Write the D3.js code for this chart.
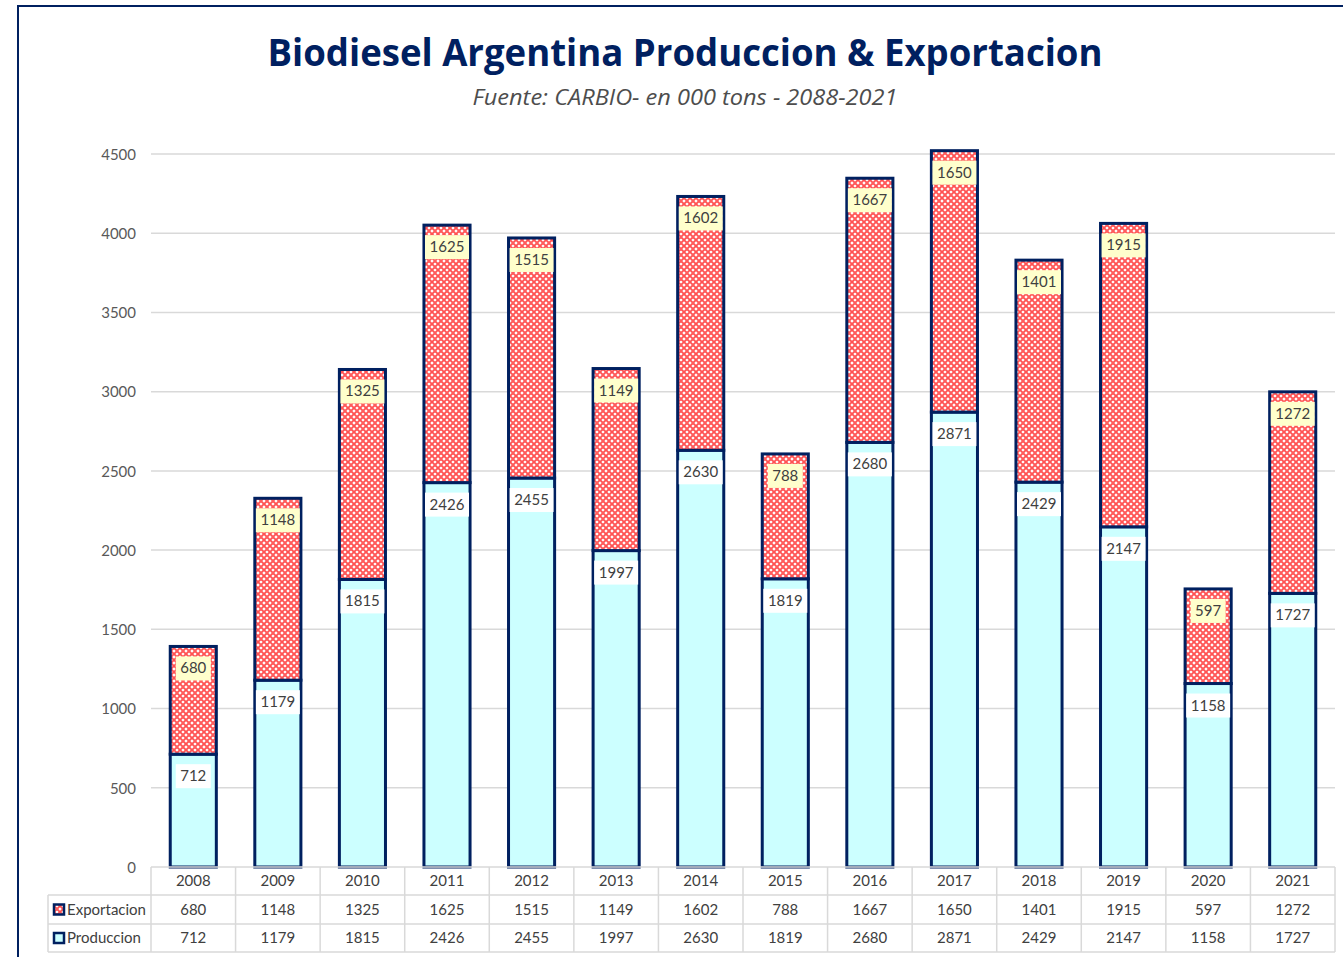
<!DOCTYPE html>
<html><head><meta charset="utf-8">
<script src="https://cdn.jsdelivr.net/npm/d3@7"></script>
<style>body{margin:0;background:#fff;}svg{display:block;}</style>
</head><body>
<script>
const years = ["2008","2009","2010","2011","2012","2013","2014","2015","2016","2017","2018","2019","2020","2021"];
const produccion = [712,1179,1815,2426,2455,1997,2630,1819,2680,2871,2429,2147,1158,1727];
const exportacion = [680,1148,1325,1625,1515,1149,1602,788,1667,1650,1401,1915,597,1272];
const yTicks = [0,500,1000,1500,2000,2500,3000,3500,4000,4500];
const title = "Biodiesel Argentina Produccion & Exportacion";
const subtitle = "Fuente: CARBIO- en 000 tons - 2088-2021";

const W = 1343, H = 957;
const navy = "#002060";
const font = "Lato, 'Open Sans', sans-serif";
const svg = d3.select("body").append("svg").attr("width", W).attr("height", H);

const defs = svg.append("defs");
const pat = defs.append("pattern").attr("id","hatch").attr("patternUnits","userSpaceOnUse")
  .attr("width",6).attr("height",6);
pat.append("rect").attr("width",6).attr("height",6).attr("fill","#ffffff");
pat.append("path").attr("d","M0,0 L6,6 M6,0 L0,6 M-3,3 L3,-3 M3,9 L9,3 M-3,3 L3,9 M3,-3 L9,3")
  .attr("stroke","#ff5252").attr("stroke-width",1.9);
pat.append("rect").attr("x",2.5).attr("y",2.5).attr("width",1).attr("height",1).attr("fill","#ff7a7a");

// frame
svg.append("rect").attr("x",18).attr("y",6).attr("width",W).attr("height",H)
  .attr("fill","none").attr("stroke",navy).attr("stroke-width",2);

svg.append("text").attr("x",685).attr("y",66).attr("text-anchor","middle")
  .attr("font-family","'Open Sans', sans-serif").attr("font-weight","bold").attr("font-size",38)
  .attr("fill",navy).attr("textLength",835).attr("lengthAdjust","spacingAndGlyphs").text(title);
svg.append("text").attr("x",685).attr("y",105).attr("text-anchor","middle")
  .attr("font-family","'Open Sans', sans-serif").attr("font-style","italic").attr("font-size",22)
  .attr("fill","#4d4d4d").attr("textLength",425).attr("lengthAdjust","spacingAndGlyphs").text(subtitle);

const x0 = 151, x1 = 1335, y0 = 867, yTop = 154;
const x = d3.scaleBand().domain(years).range([x0, x1]).paddingInner(0.455).paddingOuter(0.2275);
const y = d3.scaleLinear().domain([0,4500]).range([y0, yTop]);

// grid
svg.append("g").selectAll("line").data(yTicks.filter(d=>d>0)).join("line")
  .attr("x1",x0).attr("x2",x1).attr("y1",d=>y(d)).attr("y2",d=>y(d))
  .attr("stroke","#d9d9d9").attr("stroke-width",1.5);
// y axis labels
const yAxis = d3.axisLeft(y).tickValues(yTicks).tickSize(0).tickPadding(0).tickFormat(d3.format("d"));
const ya = svg.append("g").attr("transform",`translate(136,0)`).call(yAxis);
ya.select(".domain").remove();
ya.selectAll("text").attr("font-family",font).attr("font-size",15).attr("fill","#595959").attr("dy","0.35em");

const data = years.map((yr,i)=>({yr, p:produccion[i], e:exportacion[i]}));
const bw = x.bandwidth();
const g = svg.append("g");
g.selectAll(".p").data(data).join("rect")
  .attr("x",d=>x(d.yr)).attr("width",bw)
  .attr("y",d=>y(d.p)).attr("height",d=>y(0)-y(d.p))
  .attr("fill","#ccffff").attr("stroke",navy).attr("stroke-width",3);
g.selectAll(".e").data(data).join("rect")
  .attr("x",d=>x(d.yr)).attr("width",bw)
  .attr("y",d=>y(d.p+d.e)).attr("height",d=>y(d.p)-y(d.p+d.e))
  .attr("fill","url(#hatch)").attr("stroke",navy).attr("stroke-width",3);

function label(val, yy, cx, bg){
  const w = String(val).length*9+8;
  g.append("rect").attr("x",cx-w/2).attr("y",yy-12).attr("width",w).attr("height",24).attr("fill",bg);
  g.append("text").attr("x",cx).attr("y",yy+5).attr("text-anchor","middle")
    .attr("font-family",font).attr("font-size",15).attr("fill","#404040").text(val);
}
data.forEach(d=>{
  const cx = x(d.yr)+bw/2;
  label(d.e, y(d.p+d.e)+22, cx, "#ffffcc");
  label(d.p, y(d.p)+22, cx, "#ffffff");
});

// data table
const rowTop = [867, 895, 924, 952];
const tg = svg.append("g");
const gridC = "#d9d9d9";
tg.append("line").attr("x1",x0).attr("x2",x1).attr("y1",rowTop[0]).attr("y2",rowTop[0]).attr("stroke",gridC).attr("stroke-width",1.5);
[1,2,3].forEach(i=>tg.append("line").attr("x1",48).attr("x2",x1).attr("y1",rowTop[i]).attr("y2",rowTop[i]).attr("stroke",gridC).attr("stroke-width",1.5));
const vx = years.map(yr=>x(yr)-x.step()*x.paddingInner()/2);
vx.push(x1);
vx.forEach(v=>tg.append("line").attr("x1",v).attr("x2",v).attr("y1",rowTop[0]).attr("y2",rowTop[3]).attr("stroke",gridC).attr("stroke-width",1.5));
tg.append("line").attr("x1",48).attr("x2",48).attr("y1",rowTop[1]).attr("y2",rowTop[3]).attr("stroke",gridC).attr("stroke-width",1.5);

const rows = [years, exportacion, produccion];
rows.forEach((r,ri)=>{
  tg.selectAll(null).data(r).join("text")
    .attr("x",(d,i)=>x(years[i])+bw/2).attr("y",(rowTop[ri]+rowTop[ri+1])/2+5)
    .attr("text-anchor","middle").attr("font-family",font).attr("font-size",15).attr("fill","#404040")
    .text(d=>d);
});
const legendRows = [{name:"Exportacion", fill:"url(#hatch)"},{name:"Produccion", fill:"#ccffff"}];
legendRows.forEach((l,i)=>{
  const cy = (rowTop[i+1]+rowTop[i+2])/2;
  tg.append("rect").attr("x",54).attr("y",cy-5).attr("width",10).attr("height",10)
    .attr("fill",l.fill).attr("stroke",navy).attr("stroke-width",2.5);
  tg.append("text").attr("x",67).attr("y",cy+5).attr("font-family",font).attr("font-size",15)
    .attr("fill","#404040").text(l.name);
});
</script>
</body></html>
